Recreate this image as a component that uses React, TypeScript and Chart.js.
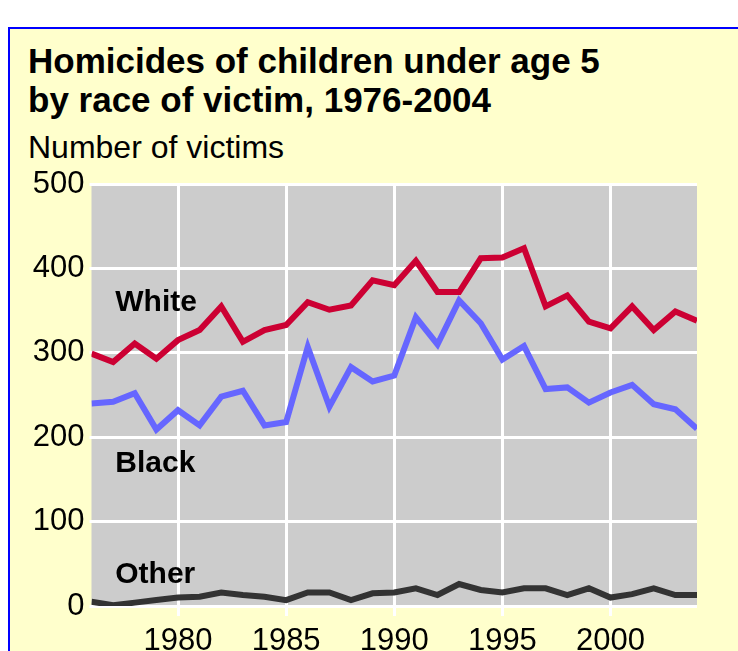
import React, { useEffect, useRef } from "react";
import { Chart, registerables } from "chart.js";

Chart.register(...registerables);

const years = [
  1976, 1977, 1978, 1979, 1980, 1981, 1982, 1983, 1984, 1985, 1986, 1987, 1988, 1989, 1990,
  1991, 1992, 1993, 1994, 1995, 1996, 1997, 1998, 1999, 2000, 2001, 2002, 2003, 2004,
];
const whiteVictims = [
  299, 289, 311, 293, 315, 327, 355, 313, 327, 333, 360, 351, 356, 386, 380,
  409, 372, 372, 412, 413, 424, 355, 368, 337, 329, 355, 327, 349, 338,
];
const blackVictims = [
  240, 242, 252, 209, 232, 214, 248, 255, 214, 218, 307, 236, 283, 266, 273,
  342, 310, 362, 335, 292, 308, 257, 259, 241, 253, 262, 239, 233, 210,
];
const otherVictims = [
  5, 1, 4, 7, 10, 11, 16, 13, 11, 7, 16, 16, 7, 15, 16,
  21, 13, 26, 19, 16, 21, 21, 13, 21, 10, 14, 21, 13, 13,
];
const seriesNames = ["White", "Black", "Other"];
const seriesColors = ["#CC0033", "#6666FF", "#333333"];
const xTickYears = [1980, 1985, 1990, 1995, 2000];
const yTickValues = [0, 100, 200, 300, 400, 500];
const labelAnchorYear = 1977.1;
const labelAnchorValues = [350, 159, 27];

const FONT = "'Liberation Sans', Arial, sans-serif";

const plotBackground = {
  id: "plotBackground",
  beforeDraw(chart: any) {
    const { ctx, chartArea } = chart;
    ctx.save();
    ctx.fillStyle = "#CCCCCC";
    ctx.fillRect(chartArea.left, chartArea.top, chartArea.right - chartArea.left, chartArea.bottom - chartArea.top);
    ctx.restore();
  },
};

const seriesLabels = {
  id: "seriesLabels",
  afterDatasetsDraw(chart: any) {
    const { ctx, scales } = chart;
    ctx.save();
    ctx.font = `bold 30px ${FONT}`;
    ctx.fillStyle = "#000000";
    ctx.textAlign = "left";
    ctx.textBaseline = "alphabetic";
    seriesNames.forEach((name, i) => {
      ctx.fillText(name, scales.x.getPixelForValue(labelAnchorYear), scales.y.getPixelForValue(labelAnchorValues[i]));
    });
    ctx.restore();
  },
};

export default function App() {
  const canvasRef = useRef<HTMLCanvasElement | null>(null);

  useEffect(() => {
    if (!canvasRef.current) return;
    const series = [whiteVictims, blackVictims, otherVictims];
    const chart = new Chart(canvasRef.current, {
      type: "line",
      data: {
        datasets: series.map((vals, i) => ({
          label: seriesNames[i],
          data: years.map((yr, j) => ({ x: yr, y: vals[j] })),
          borderColor: seriesColors[i],
          backgroundColor: seriesColors[i],
          borderWidth: 6,
          pointRadius: 0,
          tension: 0,
          fill: false,
        })),
      },
      options: {
        animation: false,
        responsive: false,
        devicePixelRatio: 1,
        layout: { padding: { left: 0, right: 41, top: 184, bottom: 0 } },
        plugins: {
          legend: { display: false },
          tooltip: { enabled: false },
          title: { display: false },
        },
        scales: {
          x: {
            type: "linear",
            min: 1976,
            max: 2004,
            afterBuildTicks: (s: any) => {
              s.ticks = xTickYears.map((v) => ({ value: v }));
            },
            afterFit: (s: any) => {
              s.height = 45;
            },
            grid: { color: "#FFFFFF", lineWidth: 3, drawTicks: true, tickLength: 10, tickColor: "#FFFFFF" },
            border: { display: false },
            ticks: {
              font: { family: FONT, size: 31, lineHeight: 1 },
              color: "#000000",
              padding: 10,
              maxRotation: 0,
              autoSkip: false,
              callback: (v: any) => String(v),
            },
          },
          y: {
            min: 0,
            max: 500,
            afterBuildTicks: (s: any) => {
              s.ticks = yTickValues.map((v) => ({ value: v }));
            },
            afterFit: (s: any) => {
              s.width = 91.5;
            },
            grid: { color: "#FFFFFF", lineWidth: 3, drawTicks: true, tickLength: 2, tickColor: "#FFFFFF" },
            border: { display: false },
            ticks: {
              font: { family: FONT, size: 31, lineHeight: 1 },
              color: "#000000",
              padding: 5,
              autoSkip: false,
              callback: (v: any) => String(v),
            },
          },
        },
      },
      plugins: [plotBackground, seriesLabels],
    } as any);
    return () => chart.destroy();
  }, []);

  return (
    <>
      <div
        style={{
          position: "fixed",
          left: 8,
          top: 27,
          right: 0,
          bottom: 0,
          background: "#FFFFCC",
          borderTop: "2px solid #0000FF",
          borderLeft: "2px solid #0000FF",
        }}
      />
      <div
        style={{
          position: "fixed",
          left: 28,
          top: 41,
          fontFamily: FONT,
          fontWeight: "bold",
          fontSize: 35,
          lineHeight: "39px",
          color: "#000000",
          whiteSpace: "nowrap",
        }}
      >
        Homicides of children under age 5
        <br />
        by race of victim, 1976-2004
      </div>
      <div
        style={{
          position: "fixed",
          left: 28,
          top: 129,
          fontFamily: FONT,
          fontSize: 32,
          lineHeight: "36px",
          color: "#000000",
          whiteSpace: "nowrap",
        }}
      >
        Number of victims
      </div>
      <canvas
        ref={canvasRef}
        width={738}
        height={651}
        style={{ position: "fixed", left: 0, top: 0, width: 738, height: 651 }}
      />
    </>
  );
}
